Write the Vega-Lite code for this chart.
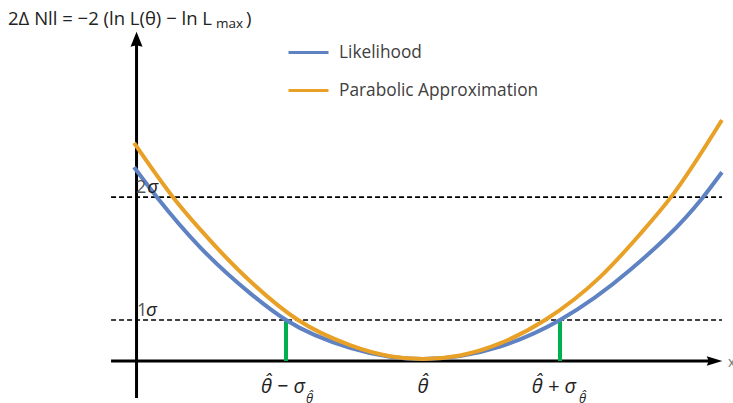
{
  "$schema": "https://vega.github.io/schema/vega-lite/v6.json",
  "width": 733,
  "height": 403,
  "autosize": {"type": "none"},
  "padding": 0,
  "config": {"view": {"stroke": null}, "font": "Open Sans"},
  "datasets": {
    "curves": [
      {"series": "Likelihood", "x": -2.109, "y": 4.92},
      {"series": "Likelihood", "x": -1.942, "y": 4.15},
      {"series": "Likelihood", "x": -1.628, "y": 2.87},
      {"series": "Likelihood", "x": -1.263, "y": 1.69},
      {"series": "Likelihood", "x": -1.0, "y": 1.0},
      {"series": "Likelihood", "x": -0.533, "y": 0.287},
      {"series": "Likelihood", "x": -0.241, "y": 0.059},
      {"series": "Likelihood", "x": 0.0, "y": 0.0},
      {"series": "Likelihood", "x": 0.27, "y": 0.074},
      {"series": "Likelihood", "x": 0.562, "y": 0.318},
      {"series": "Likelihood", "x": 1.0, "y": 1.0},
      {"series": "Likelihood", "x": 1.511, "y": 2.28},
      {"series": "Likelihood", "x": 2.044, "y": 4.15},
      {"series": "Likelihood", "x": 2.182, "y": 4.79},
      {"series": "Parabolic Approximation", "x": -2.109, "y": 5.54},
      {"series": "Parabolic Approximation", "x": -1.825, "y": 4.15},
      {"series": "Parabolic Approximation", "x": -1.628, "y": 3.33},
      {"series": "Parabolic Approximation", "x": -1.263, "y": 2.0},
      {"series": "Parabolic Approximation", "x": -0.912, "y": 1.0},
      {"series": "Parabolic Approximation", "x": -0.533, "y": 0.356},
      {"series": "Parabolic Approximation", "x": -0.241, "y": 0.073},
      {"series": "Parabolic Approximation", "x": 0.0, "y": 0.0},
      {"series": "Parabolic Approximation", "x": 0.27, "y": 0.092},
      {"series": "Parabolic Approximation", "x": 0.562, "y": 0.4},
      {"series": "Parabolic Approximation", "x": 0.891, "y": 1.0},
      {"series": "Parabolic Approximation", "x": 1.292, "y": 2.1},
      {"series": "Parabolic Approximation", "x": 1.584, "y": 3.2},
      {"series": "Parabolic Approximation", "x": 1.81, "y": 4.15},
      {"series": "Parabolic Approximation", "x": 2.182, "y": 6.13}
    ],
    "axes": [
      {"x": -2.091, "x2": -2.091, "y": -1.0, "y2": 8.077},
      {"x": -2.277, "x2": 2.109, "y": -0.051, "y2": -0.051}
    ],
    "dashed": [
      {"x": -2.277, "x2": 2.182, "y": 1.0, "y2": 1.0},
      {"x": -2.277, "x2": 2.182, "y": 4.15, "y2": 4.15}
    ],
    "green": [
      {"x": -1.0, "x2": -1.0, "y": -0.051, "y2": 1.0},
      {"x": 1.0, "x2": 1.0, "y": -0.051, "y2": 1.0}
    ],
    "arrowUp": [{"x": -2.091, "y": 8.2}],
    "arrowRight": [{"x": 2.128, "y": -0.051}],
    "digits": [
      {"x": -2.088, "y": 1.103, "label": "1"},
      {"x": -2.095, "y": 4.256, "label": "2"}
    ],
    "sigmas": [
      {"x": -2.022, "y": 1.103, "label": "σ"},
      {"x": -2.012, "y": 4.256, "label": "σ"}
    ],
    "thetaCenter": [{"x": 0.0, "y": -0.872, "label": "θ̂"}],
    "thetaSides": [
      {"x": -0.861, "y": -0.872, "label": "θ̂ − σ"},
      {"x": 1.117, "y": -0.872, "label": "θ̂ + σ"}
    ],
    "subs": [
      {"x": -0.854, "y": -1.13, "label": "θ̂"},
      {"x": 1.139, "y": -1.13, "label": "θ̂"}
    ],
    "title": [
      {"x": -3.029, "y": 8.564, "label": "2Δ Nll = −2 (ln L(θ) − ln L"},
      {"x": -1.292, "y": 8.564, "label": ")"}
    ],
    "titleSub": [{"x": -1.511, "y": 8.487, "label": "max"}],
    "edge": [{"x": 2.226, "y": -0.205, "label": "x"}]
  },
  "encoding": {
    "x": {"field": "x", "type": "quantitative", "scale": {"domain": [-3.0876, 2.2628], "nice": false, "zero": false}, "axis": null},
    "y": {"field": "y", "type": "quantitative", "scale": {"domain": [-1.128, 9.205], "nice": false, "zero": false}, "axis": null}
  },
  "layer": [
    {
      "data": {"name": "dashed"},
      "mark": {"type": "rule", "color": "black", "strokeWidth": 1.6, "strokeDash": [5, 3]},
      "encoding": {"x2": {"field": "x2"}, "y2": {"field": "y2"}}
    },
    {
      "data": {"name": "axes"},
      "mark": {"type": "rule", "color": "black", "strokeWidth": 3},
      "encoding": {"x2": {"field": "x2"}, "y2": {"field": "y2"}}
    },
    {
      "data": {"name": "arrowUp"},
      "mark": {"type": "point", "filled": true, "color": "black", "opacity": 1, "shape": "M0,-1L-0.8,1L0,0.8L0.8,1Z", "size": 225}
    },
    {
      "data": {"name": "arrowRight"},
      "mark": {"type": "point", "filled": true, "color": "black", "opacity": 1, "shape": "M1,0L-1,-0.6L-0.75,0L-1,0.6Z", "size": 243}
    },
    {
      "data": {"name": "green"},
      "mark": {"type": "rule", "color": "#00B050", "strokeWidth": 4},
      "encoding": {"x2": {"field": "x2"}, "y2": {"field": "y2"}}
    },
    {
      "data": {"name": "curves"},
      "mark": {"type": "line", "strokeWidth": 4, "interpolate": "monotone"},
      "encoding": {
        "color": {
          "field": "series", "type": "nominal",
          "scale": {"domain": ["Likelihood", "Parabolic Approximation"], "range": ["#5E82C2", "#E8A026"]},
          "legend": {
            "title": null, "orient": "none", "legendX": 287, "legendY": 31,
            "symbolType": "stroke", "symbolSize": 1600, "symbolStrokeWidth": 3,
            "labelFontSize": 17.3, "labelOffset": 9, "labelColor": "#404040", "labelFont": "Open Sans",
            "labelLimit": 400, "rowPadding": 8, "padding": 0
          }
        }
      }
    },
    {
      "data": {"name": "digits"},
      "mark": {"type": "text", "align": "left", "baseline": "alphabetic", "fontSize": 18, "color": "#555555"},
      "encoding": {"text": {"field": "label"}}
    },
    {
      "data": {"name": "sigmas"},
      "mark": {"type": "text", "align": "left", "baseline": "alphabetic", "fontSize": 19, "fontStyle": "italic", "color": "#222222"},
      "encoding": {"text": {"field": "label"}}
    },
    {
      "data": {"name": "thetaCenter"},
      "mark": {"type": "text", "align": "center", "baseline": "alphabetic", "fontSize": 20, "fontStyle": "italic", "color": "#222222"},
      "encoding": {"text": {"field": "label"}}
    },
    {
      "data": {"name": "thetaSides"},
      "mark": {"type": "text", "align": "right", "baseline": "alphabetic", "fontSize": 20, "fontStyle": "italic", "color": "#222222"},
      "encoding": {"text": {"field": "label"}}
    },
    {
      "data": {"name": "subs"},
      "mark": {"type": "text", "align": "left", "baseline": "alphabetic", "fontSize": 13, "fontStyle": "italic", "color": "#222222"},
      "encoding": {"text": {"field": "label"}}
    },
    {
      "data": {"name": "title"},
      "mark": {"type": "text", "align": "left", "baseline": "alphabetic", "fontSize": 18.5, "color": "#222222"},
      "encoding": {"text": {"field": "label"}}
    },
    {
      "data": {"name": "titleSub"},
      "mark": {"type": "text", "align": "left", "baseline": "alphabetic", "fontSize": 13.5, "color": "#222222"},
      "encoding": {"text": {"field": "label"}}
    },
    {
      "data": {"name": "edge"},
      "mark": {"type": "text", "align": "left", "baseline": "alphabetic", "fontSize": 14, "color": "#777777"},
      "encoding": {"text": {"field": "label"}}
    }
  ]
}
